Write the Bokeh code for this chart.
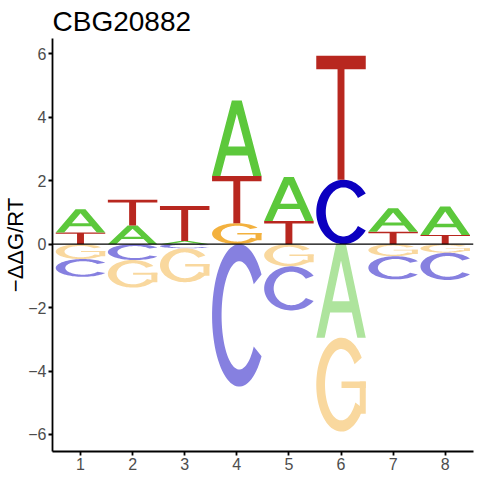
import numpy as np
from bokeh.plotting import figure
from bokeh.models import Range1d, Span, FixedTicker, ColumnDataSource
from bokeh.embed import file_html
from bokeh.resources import INLINE

# ---------------- data ----------------
title_text = "CBG20882"
y_label = "\u2212\u0394\u0394G/RT"
positions = [1, 2, 3, 4, 5, 6, 7, 8]
letters = ["A", "C", "G", "T"]
A_vals = [0.73, 0.59, 0.10, 2.38, 1.39, -2.95, 0.74, 0.90]
C_vals = [-0.56, -0.50, -0.13, -4.49, -1.39, 2.03, -0.73, -0.86]
G_vals = [-0.47, -0.87, -1.07, 0.66, -0.70, -2.96, -0.38, -0.27]
T_vals = [0.37, 0.81, 1.10, 1.49, 0.73, 3.91, 0.39, 0.29]
y_ticks = [-6, -4, -2, 0, 2, 4, 6]
x_ticks = positions

# ---------------- style ----------------
base_colors = {"A": "#5CC83B", "C": "#0C00C0", "G": "#F3B13E", "T": "#B8271F"}
letter_width = 0.95
FONT = "Liberation Sans"


def blend_white(hex_color, alpha=0.5):
    h = hex_color.lstrip("#")
    r, g, b = (int(h[i:i + 2], 16) for i in (0, 2, 4))
    mix = lambda c: int(round(c * alpha + 255 * (1 - alpha)))
    return "#%02X%02X%02X" % (mix(r), mix(g), mix(b))


def arc_ring(t1, t2, tx, ty, n=72):
    t = np.radians(np.linspace(t1, t2, n))
    ox, oy = np.cos(t), np.sin(t)
    tr = t[::-1]
    ix, iy = (1 - tx) * np.cos(tr), (1 - ty) * np.sin(tr)
    return list(zip(np.concatenate([ox, ix]), np.concatenate([oy, iy])))


def rect(x0, x1, y0, y1):
    return [(x0, y0), (x1, y0), (x1, y1), (x0, y1)]


def norm(ring, xmin, xmax):
    return [((x - xmin) / (xmax - xmin), (y + 1) / 2.0) for x, y in ring]


# letter shapes in a unit box: list of parts, each part = list of rings
shape_T = [[[(0, 1), (1, 1), (1, 0.89), (0.57, 0.89), (0.57, 0), (0.43, 0), (0.43, 0.89), (0, 0.89)]]]
shape_A = [[
    [(0, 0), (0.40, 1), (0.60, 1), (1, 0), (0.83, 0), (0.72, 0.27), (0.28, 0.27), (0.17, 0)],
    [(0.326, 0.39), (0.5, 0.825), (0.674, 0.39)],
]]
c_ang = 35
shape_C = [[norm(arc_ring(c_ang, 360 - c_ang, 0.35, 0.24), -1, np.cos(np.radians(c_ang)))]]
g_max = 0.98
shape_G = [
    [norm(arc_ring(35, 330, 0.35, 0.24), -1, g_max)],
    [norm(rect(0.01, g_max, -0.07, 0.07), -1, g_max)],
    [norm(rect(g_max - 0.24, g_max, -0.62, 0.07), -1, g_max)],
]
shapes = {"A": shape_A, "C": shape_C, "G": shape_G, "T": shape_T}

values = {"A": A_vals, "C": C_vals, "G": G_vals, "T": T_vals}

xs, ys, cols = [], [], []
for i, pos in enumerate(positions):
    vals = [(values[L][i], L) for L in letters]
    pos_list = sorted([v for v in vals if v[0] > 0], key=lambda v: v[0])
    neg_list = sorted([v for v in vals if v[0] < 0], key=lambda v: -v[0])
    stacks = []
    base = 0.0
    for v, L in pos_list:
        stacks.append((base, base + v, L, base_colors[L]))
        base += v
    base = 0.0
    for v, L in neg_list:
        stacks.append((base + v, base, L, blend_white(base_colors[L], 0.5)))
        base += v
    x0 = pos - letter_width / 2.0
    for bot, top, L, col in stacks:
        h = top - bot
        for part in shapes[L]:
            rx = [[x0 + u * letter_width for u, v in ring] for ring in part]
            ry = [[bot + v * h for u, v in ring] for ring in part]
            xs.append([rx])
            ys.append([ry])
            cols.append(col)

src = ColumnDataSource(dict(xs=xs, ys=ys, color=cols))

p = figure(width=480, height=480, output_backend="svg", toolbar_location=None,
           x_range=Range1d(0.4626, 8.543), y_range=Range1d(-6.536, 6.482),
           min_border_left=51, min_border_right=7, min_border_top=38, min_border_bottom=29,
           title=title_text)
p.multi_polygons(xs="xs", ys="ys", source=src, fill_color="color", line_color=None)
p.add_layout(Span(location=0, dimension="width", line_color="black", line_width=1.2, level="overlay"))

p.xgrid.visible = False
p.ygrid.visible = False
p.outline_line_color = None
p.background_fill_color = "white"
p.border_fill_color = "white"

p.title.text_font = FONT
p.title.text_font_size = "28px"
p.title.text_font_style = "normal"
p.title.text_color = "black"
p.title.offset = 0
p.title.standoff = 4

p.xaxis.ticker = FixedTicker(ticks=x_ticks)
p.yaxis.ticker = FixedTicker(ticks=y_ticks)
for ax in (p.xaxis, p.yaxis):
    ax.axis_line_width = 1.8
    ax.axis_line_color = "black"
    ax.major_tick_line_width = 1.8
    ax.major_tick_line_color = "black"
    ax.major_tick_out = 4
    ax.major_tick_in = 0
    ax.minor_tick_line_color = None
    ax.major_label_text_font = FONT
    ax.major_label_text_font_size = "16px"
    ax.major_label_text_color = "#4D4D4D"
    ax.major_label_standoff = 2

p.xaxis.axis_label_standoff = 0

p.yaxis.axis_label = y_label
p.yaxis.axis_label_text_font = FONT
p.yaxis.axis_label_text_font_size = "22px"
p.yaxis.axis_label_text_font_style = "normal"
p.yaxis.axis_label_text_color = "black"
p.yaxis.axis_label_standoff = -3

open("out.html", "w").write(file_html(p, INLINE))
